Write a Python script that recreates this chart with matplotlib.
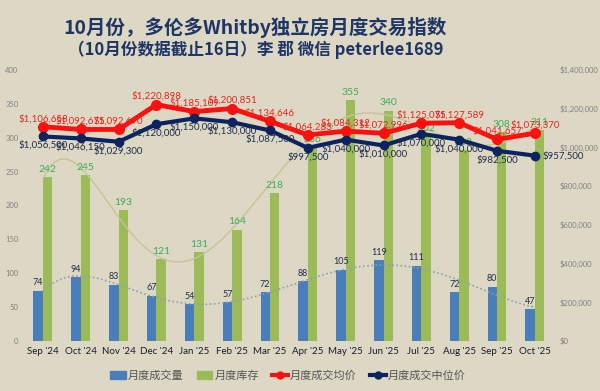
import numpy as np
import matplotlib
matplotlib.use("Agg")
import matplotlib.pyplot as plt
from matplotlib.patches import Patch
from matplotlib.lines import Line2D

plt.rcParams['font.family'] = ['Lato', 'Noto Sans CJK SC', 'DejaVu Sans']

months = ["Sep '24", "Oct '24", "Nov '24", "Dec '24", "Jan '25", "Feb '25", "Mar '25",
          "Apr '25", "May '25", "Jun '25", "Jul '25", "Aug '25", "Sep '25", "Oct '25"]
volume = [74, 94, 83, 67, 54, 57, 72, 88, 105, 119, 111, 72, 80, 47]
inventory = [242, 245, 193, 121, 131, 164, 218, 286, 355, 340, 302, 282, 308, 311]
avg_price = [1106658, 1092675, 1092690, 1220898, 1185109, 1200851, 1134646,
             1064283, 1084312, 1072996, 1125075, 1127589, 1041657, 1073370]
median_price = [1056500, 1046150, 1029300, 1120000, 1150000, 1130000, 1087500,
                997500, 1040000, 1010000, 1070000, 1040000, 982500, 957500]

title = "10月份，多伦多Whitby独立房月度交易指数"
subtitle = "（10月份数据截止16日）李 郡 微信 peterlee1689"
legend_labels = ["月度成交量", "月度库存", "月度成交均价", "月度成交中位价"]

bg = "#ddd8c4"
c_blue = "#4a7ebb"
c_green = "#9bbb59"
c_red = "#ff1010"
c_navy = "#0b2460"
c_glabel = "#3faa5a"

fig = plt.figure(figsize=(6, 3.91), dpi=100, facecolor=bg)
ax = fig.add_axes([0.04, 0.128, 0.883, 0.693])
ax.set_facecolor(bg)
ax2 = ax.twinx()

x = np.arange(len(months))
w = 0.25
ax.bar(x - w / 2, volume, w, color=c_blue, zorder=2)
ax.bar(x + w / 2, inventory, w, color=c_green, zorder=2)

# polynomial trendlines
xs = np.linspace(0, len(months) - 1, 300)
pv = np.polyfit(x, volume, 6)
pi = np.polyfit(x, inventory, 6)
ax.plot(xs, np.polyval(pv, xs), ls=(0, (1, 1.5)), color="#8d9fb6", lw=1.2, zorder=3)
ax.plot(xs, np.polyval(pi, xs), ls="-", color="#c3c49a", lw=1.0, zorder=3)

for xi, v in zip(x, volume):
    ax.text(xi - w / 2, v + 5, str(v), ha="center", va="bottom", fontsize=6.5, color="#1f2d4a", zorder=4)
for xi, v in zip(x, inventory):
    ax.text(xi + w / 2, v + 5, str(v), ha="center", va="bottom", fontsize=7.5, color=c_glabel, zorder=4)

ax.set_ylim(0, 400)
ax.set_xlim(-0.5, len(months) - 0.5)
ax.set_yticks(range(0, 401, 50))
ax.set_xticks(x)
ax.set_xticklabels(months, fontsize=7, color="#1a1a2e")
ax.tick_params(axis="y", labelsize=5.5, colors="#808080", length=0, pad=4)
ax.tick_params(axis="x", length=0, pad=4)
for s in ax.spines.values():
    s.set_visible(False)

ax2.plot(x, avg_price, color=c_red, lw=3.5, marker="o", ms=7, zorder=5)
ax2.plot(x, median_price, color=c_navy, lw=3.0, marker="o", ms=6, zorder=6)
for xi, v in zip(x, avg_price):
    ax2.text(xi, v + 18000, f"${v:,}", ha="center", va="bottom", fontsize=7, color="#e8241f", zorder=7)
for i, (xi, v) in enumerate(zip(x, median_price)):
    if i == len(x) - 1:
        ax2.text(xi + 0.2, v, f"${v:,}", ha="left", va="center", fontsize=7, color="#1f2d4a", zorder=7)
    else:
        ax2.text(xi, v - 22000, f"${v:,}", ha="center", va="top", fontsize=7, color="#1f2d4a", zorder=7)

ax2.set_ylim(0, 1400000)
ax2.set_yticks(range(0, 1400001, 200000))
ax2.set_yticklabels(["$0"] + [f"${v:,}" for v in range(200000, 1400001, 200000)])
ax2.tick_params(axis="y", labelsize=5.5, colors="#808080", length=0, pad=4)
for s in ax2.spines.values():
    s.set_visible(False)

fig.text(0.425, 0.93, title, ha="center", va="center", fontsize=14, fontweight="bold",
         color="#1f3566", family=["Noto Sans CJK SC", "DejaVu Sans"])
fig.text(0.427, 0.873, subtitle, ha="center", va="center", fontsize=12, fontweight="bold",
         color="#1f3566", family=["Noto Sans CJK SC", "DejaVu Sans"])

handles = [Patch(color=c_blue), Patch(color=c_green),
           Line2D([0], [0], color=c_red, lw=3, marker="o", ms=5),
           Line2D([0], [0], color=c_navy, lw=3, marker="o", ms=5)]
leg = fig.legend(handles, legend_labels, loc="center", bbox_to_anchor=(0.48, 0.04), ncol=4,
                 frameon=False, handlelength=1.4, handletextpad=0.2, columnspacing=1.2,
                 prop={"family": ["Noto Sans CJK SC", "DejaVu Sans"], "size": 8})
for t in leg.get_texts():
    t.set_color("#555555")

fig.savefig("out.png", dpi=100, facecolor=bg)
